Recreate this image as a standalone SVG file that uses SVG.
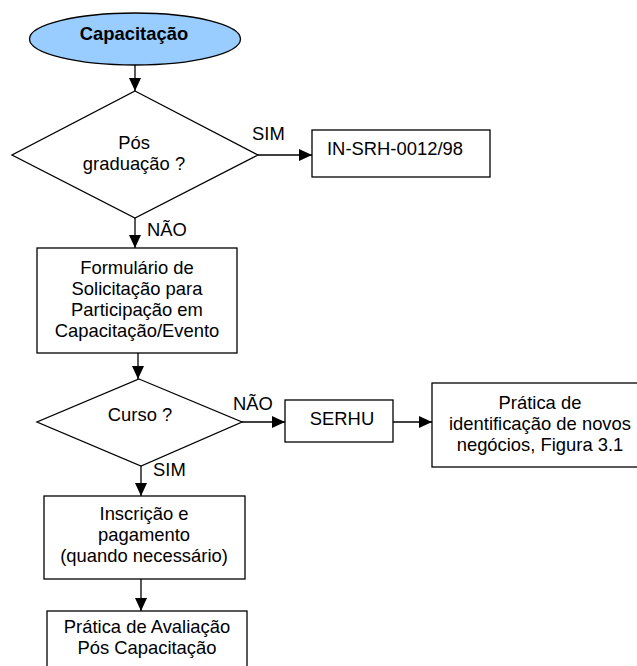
<svg xmlns="http://www.w3.org/2000/svg" width="637" height="666" viewBox="0 0 637 666">
<style>
.s{fill:#fff;stroke:#000;stroke-width:1.3}
.t{font-family:"Liberation Sans",Arial,sans-serif;font-size:18.4px;fill:#000;text-anchor:middle}
.l{font-family:"Liberation Sans",Arial,sans-serif;font-size:18.4px;fill:#000}
.c{fill:none;stroke:#000;stroke-width:1.3}
</style>
<defs>
<marker id="ah" markerUnits="userSpaceOnUse" markerWidth="14" markerHeight="12" refX="13" refY="6" orient="auto">
<path d="M0,0 L13,6 L0,12 z" fill="#000"/>
</marker>
</defs>
<rect width="637" height="666" fill="#fff"/>
<g id="connectors">
<line class="c" x1="135" y1="65" x2="135" y2="91" marker-end="url(#ah)"/>
<line class="c" x1="258" y1="155" x2="312" y2="155" marker-end="url(#ah)"/>
<line class="c" x1="135" y1="218" x2="135" y2="248" marker-end="url(#ah)"/>
<line class="c" x1="138" y1="353" x2="138" y2="379" marker-end="url(#ah)"/>
<line class="c" x1="242" y1="422" x2="285" y2="422" marker-end="url(#ah)"/>
<line class="c" x1="393" y1="422" x2="432" y2="422" marker-end="url(#ah)"/>
<line class="c" x1="141" y1="466" x2="141" y2="496" marker-end="url(#ah)"/>
<line class="c" x1="141" y1="579" x2="141" y2="611" marker-end="url(#ah)"/>
<text class="l" x="252" y="140">SIM</text>
<text class="l" x="147" y="236">NÃO</text>
<text class="l" x="233" y="410">NÃO</text>
<text class="l" x="153" y="476">SIM</text>
</g>
<g id="start">
<ellipse cx="135" cy="39" rx="105.5" ry="26" fill="#99CCFF" stroke="#000" stroke-width="1.3"/>
<text class="t" x="134" y="40" font-weight="bold">Capacitação</text>
</g>
<g id="dec1">
<polygon class="s" points="135,91 258,155 135,218 12,155"/>
<text class="t" x="134" y="149">Pós</text>
<text class="t" x="134" y="170">graduação ?</text>
</g>
<g id="in-srh">
<rect class="s" x="312" y="130" width="178" height="47"/>
<text class="l" x="327" y="155">IN-SRH-0012/98</text>
</g>
<g id="formulario">
<rect class="s" x="37" y="248" width="200" height="105"/>
<text class="t" x="137" y="274">Formulário de</text>
<text class="t" x="137" y="295">Solicitação para</text>
<text class="t" x="137" y="316">Participação em</text>
<text class="t" x="137" y="337">Capacitação/Evento</text>
</g>
<g id="dec2">
<polygon class="s" points="139,379 242,422 141,466 37,422"/>
<text class="t" x="140" y="421">Curso ?</text>
</g>
<g id="serhu">
<rect class="s" x="285" y="400" width="108" height="42"/>
<text class="t" x="342" y="425">SERHU</text>
</g>
<g id="pratica-negocios">
<rect class="s" x="432" y="383" width="216" height="84"/>
<text class="t" x="540" y="409">Prática de</text>
<text class="t" x="540" y="430">identificação de novos</text>
<text class="t" x="540" y="451">negócios, Figura 3.1</text>
</g>
<g id="inscricao">
<rect class="s" x="44" y="496" width="201" height="83"/>
<text class="t" x="144" y="520">Inscrição e</text>
<text class="t" x="144" y="541">pagamento</text>
<text class="t" x="144" y="562">(quando necessário)</text>
</g>
<g id="avaliacao">
<rect class="s" x="47" y="611" width="200" height="70"/>
<text class="t" x="147" y="633">Prática de Avaliação</text>
<text class="t" x="147" y="654">Pós Capacitação</text>
</g>
</svg>
